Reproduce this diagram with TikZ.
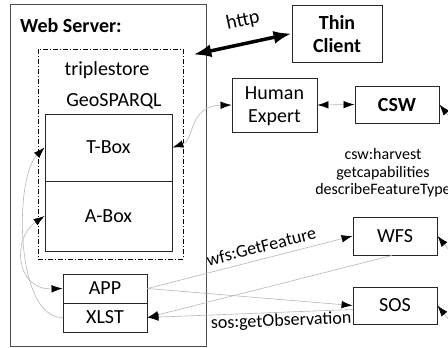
\documentclass[tikz,border=0pt]{standalone}
\usepackage{fontspec}
\setmainfont{Carlito}
\usetikzlibrary{arrows.meta,calc}
\tikzset{
  blk/.tip={Latex[length=11pt,width=7.5pt,color=black]},
  big/.tip={Latex[length=18pt,width=13pt]},
  box/.style={draw=black!85, line width=0.9pt, inner sep=0pt, align=center, text depth=0pt,
    font=\fontsize{20}{23}\selectfont},
  bbox/.style={box, font=\fontsize{20}{23}\selectfont\bfseries},
  lbl/.style={inner sep=0pt, font=\fontsize{20}{23}\selectfont},
  small/.style={inner sep=0pt, anchor=base, font=\fontsize{16}{18}\selectfont},
  elbl/.style={inner sep=1pt, sloped, font=\fontsize{18}{20}\selectfont},
  conn/.style={draw=black!28, line width=0.6pt}
}
\begin{document}
\begin{tikzpicture}[x=1pt,y=-1pt]
\path[use as bounding box, fill=white] (0,0) rectangle (448,348);
\clip (0,0) rectangle (448,348);

% web server
\node[draw=black!70, line width=0.9pt, minimum width=196pt, minimum height=342pt, inner sep=0pt] (web) at (108,175) {};
\node[lbl, anchor=base, font=\fontsize{20}{23}\selectfont\bfseries] (webl) at (71,32) {Web Server:};

% triplestore
\node[draw=black, line width=0.7pt, dash pattern=on 5pt off 2pt on 1pt off 2pt,
      minimum width=145pt, minimum height=210pt, inner sep=0pt] (triple) at (110.5,154) {};
\node[lbl, anchor=base] (tsl) at (107,75) {triplestore};
\node[lbl, anchor=base] (geo) at (114,106) {GeoSPARQL};
\node[box, minimum width=127pt, minimum height=67pt] (tbox) at (108.5,147.5) {T-Box};
\node[box, minimum width=127pt, minimum height=70pt] (abox) at (108.5,216) {A-Box};

% app / xlst
\node[box, minimum width=84pt, minimum height=29pt] (app) at (105,288.5) {APP};
\node[box, minimum width=84pt, minimum height=29pt] (xlst) at (105,317.5) {XLST};

% right side
\node[bbox, minimum width=90pt, minimum height=57pt] (thin) at (337,33.5) {Thin\\Client};
\node[box, minimum width=85pt, minimum height=54pt] (human) at (274.5,105) {Human\\Expert};
\node[bbox, minimum width=84pt, minimum height=37pt] (csw) at (397,104.5) {CSW};
\node[box, minimum width=84pt, minimum height=38pt] (wfs) at (395,236) {WFS};
\node[box, minimum width=84pt, minimum height=37pt] (sos) at (395,305.5) {SOS};

\node[small] (c1) at (383,159) {csw:harvest};
\node[small] (c2) at (383,177) {getcapabilities};
\node[small] (c3) at (383,194) {describeFeatureType};

% http
\coordinate (httpend) at ($(triple.north east)+(10,6)$);
\draw[line width=3.5pt, big-big] (httpend) -- (thin.west);
\node[lbl, rotate=12] (http) at (243,21) {http};

% thin connectors
\draw[conn, blk-blk] (tbox.east) .. controls (195,140) and (188,106) .. (human.west);
\draw[conn, blk-blk] (human.east) -- (csw.west);
\draw[conn, -blk] (xlst.west) .. controls (15,318) and (14,178) .. (tbox.west);
\draw[conn, blk-blk] (abox.west) .. controls (12,238) and (15,290) .. (app.west);
\draw[conn, -blk] (app.east) -- node[elbl, above=5pt, pos=0.57] (wfsl) {wfs:GetFeature} (wfs.west);
\draw[conn, -blk] (app.east) -- (sos.west);
\draw[conn, blk-] (xlst.east) -- ($(wfs.south)+(-3,0)$);
\draw[conn, blk-] (xlst.east) -- node[elbl, below=0pt, pos=0.65] (sosl) {sos:getObservation} ($(sos.west)+(0,4)$);

% arrows from beyond the right edge
\coordinate (rcsw) at (460,130);
\coordinate (rwfs) at (458,261);
\coordinate (rsos) at (458,331);
\draw[conn, -blk] (rcsw) -- (csw.east);
\draw[conn, -blk] (rwfs) -- (wfs.east);
\draw[conn, -blk] (rsos) -- (sos.east);
\end{tikzpicture}
\end{document}
